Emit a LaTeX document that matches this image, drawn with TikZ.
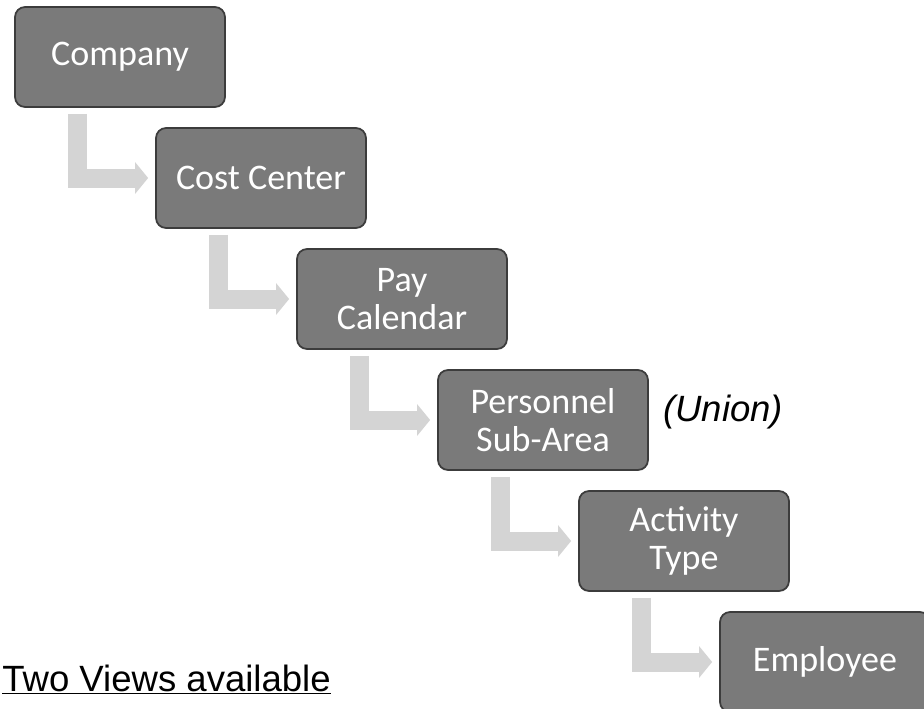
\documentclass[tikz,border=0pt]{standalone}
\usepackage{fontspec}
\setmainfont{Liberation Sans}
\newfontfamily\boxfont{Carlito}
\usepackage{tikz}
\usetikzlibrary{arrows.meta,calc}
\definecolor{stageGray}{HTML}{7A7A7A}
\definecolor{stageEdge}{HTML}{3C3C3C}
\definecolor{flowGray}{HTML}{D4D4D4}
\tikzset{
  stage/.style={draw=stageEdge,fill=stageGray,rounded corners=0.2cm,
    line width=1pt,minimum width=4.2cm,minimum height=2cm,align=center,
    text=white,font=\boxfont\fontsize{20.5}{22}\selectfont},
  flow/.style={-{Triangle[length=0.26cm,width=0.62cm]},line width=0.38cm,
    draw=flowGray,shorten >=0.14cm},
  note/.style={font=\fontsize{20.8}{24}\selectfont,inner sep=0pt}
}
\begin{document}
\begin{tikzpicture}[x=0.02cm,y=-0.02cm]
  \useasboundingbox (0,0) rectangle (924,708);

  % the chain of stages
  \foreach \i/\name/\txt in {0/company/Company,1/cost/Cost Center,
      2/pay/{Pay\\Calendar},3/psa/{Personnel\\Sub-Area},
      4/activity/{Activity\\Type},5/employee/Employee} {
    \node[stage] (\name) at ({120+141*\i},{57+121*\i}) {\txt};
  }

  % bent arrows between them
  \foreach \a/\b in {company/cost,cost/pay,pay/psa,psa/activity,activity/employee} {
    \draw[flow] ($(\a.south west)+(63,6)$) |- (\b.west);
  }

  \node[note, anchor=west] (union) at (663,412) {\itshape (Union)};
  \node[note, anchor=base west] (views) at (2,691) {\underline{Two Views available}};
\end{tikzpicture}
\end{document}
